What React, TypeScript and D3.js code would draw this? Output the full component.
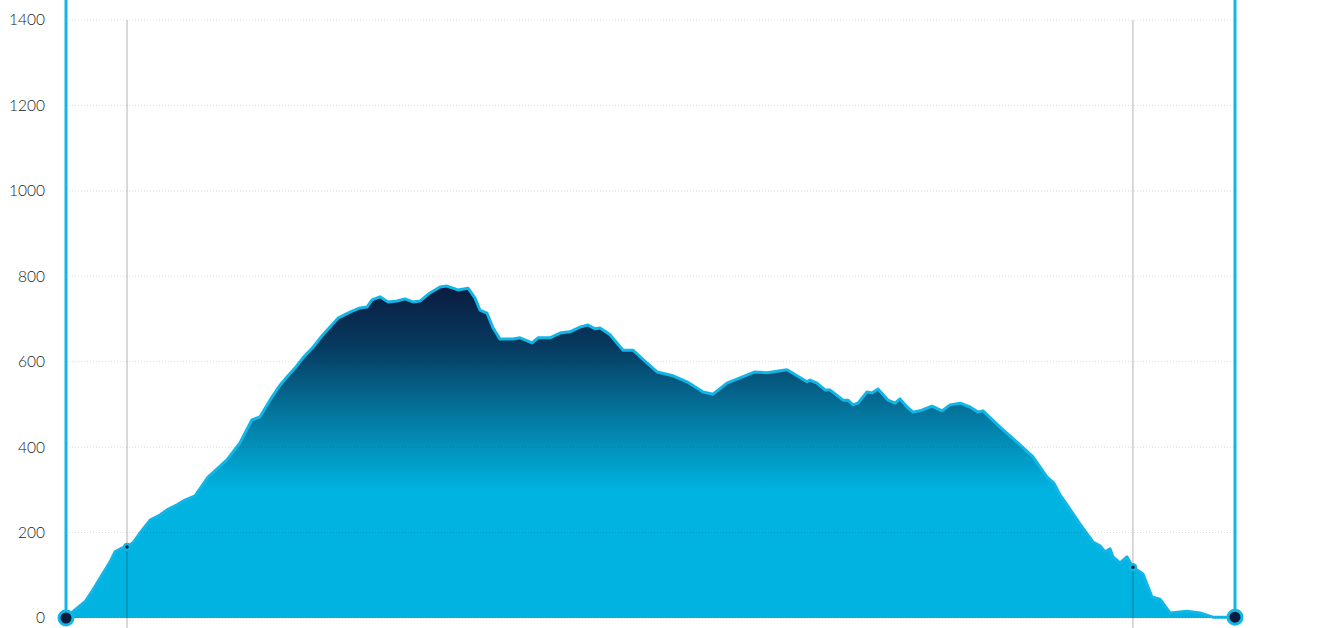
import React from "react";
import * as d3 from "d3";

const distanceKm = [
  0, 0.34, 0.77, 1.63, 2.31, 3.17, 3.76, 4.19, 4.79, 5.22, 5.73, 6.33, 7.19, 8.04, 8.64, 9.5, 10.18, 11.04,
  12.15, 13.0, 13.77, 14.88, 15.91, 16.6, 17.45, 18.31, 18.9, 19.59, 20.27, 21.13, 21.98, 23.27, 24.29, 25.15,
  25.75, 26.18, 26.86, 27.55, 28.31, 29.0, 29.68, 30.28, 31.14, 31.99, 32.59, 33.53, 34.39, 34.99, 35.41, 36.01,
  36.53, 37.13, 38.24, 38.84, 39.86, 40.38, 41.4, 42.26, 43.11, 43.97, 44.65, 45.25, 45.68, 46.54, 47.65, 48.5,
  49.7, 50.56, 51.93, 53.12, 54.23, 54.49, 55.35, 56.54, 57.66, 58.94, 59.97, 61.68, 63.39, 63.64, 64.24, 64.93,
  65.35, 66.47, 66.89, 67.32, 67.75, 68.52, 68.95, 69.46, 70.32, 70.92, 71.34, 71.94, 72.46, 73.05, 74.08, 74.94,
  75.62, 76.48, 77.33, 78.02, 78.44, 79.9, 81.35, 82.72, 83.92, 84.5, 85.03, 85.63, 86.74, 87.85, 88.45, 88.88, 89.31,
  89.56, 90.16, 90.76, 91.27, 92.13, 92.9, 93.58, 94.44, 95.89, 97.01, 98.12, 99.83, 100,
];

const elevationM = [
  0, 9, 19, 38, 66, 105, 131, 155, 164, 166, 176, 199, 229, 241, 253, 265, 276, 286,
  330, 351, 370, 410, 464, 471, 510, 545, 564, 585, 609, 634, 663, 702, 716, 726,
  728, 745, 752, 740, 742, 747, 740, 742, 761, 775, 777, 768, 772, 749, 721, 714,
  679, 653, 653, 656, 644, 656, 656, 667, 670, 681, 686, 677, 679, 663, 627, 627,
  597, 576, 567, 553, 534, 529, 524, 550, 562, 576, 574, 581, 553, 557, 550, 534,
  534, 510, 510, 499, 503, 529, 527, 536, 510, 503, 513, 494, 482, 485, 496, 485,
  499, 503, 494, 482, 485, 447, 412, 377, 330, 316, 288, 265, 220, 178, 169, 155, 162,
  143, 129, 143, 119, 103, 49, 44, 12, 16, 12, 2, 2, 2,
];

const yTicks = [0, 200, 400, 600, 800, 1000, 1200, 1400];
const markerKm = [5.22, 91.27];

export default function App() {
  const width = 1336;
  const height = 628;
  const left = 66;
  const right = 1235;
  const top = 20;
  const bottom = 618;

  const x = d3.scaleLinear().domain([0, 100]).range([left, right]);
  const y = d3.scaleLinear().domain([0, 1400]).range([bottom, top]);

  const pts = distanceKm.map((d, i) => ({ d, e: elevationM[i] }));
  const area = d3
    .area<{ d: number; e: number }>()
    .x((p) => x(p.d))
    .y0(y(0))
    .y1((p) => y(p.e));
  const line = d3
    .line<{ d: number; e: number }>()
    .x((p) => x(p.d))
    .y((p) => y(p.e));

  const interp = (km: number) => {
    const i = d3.bisectLeft(distanceKm, km);
    if (i <= 0) return elevationM[0];
    if (i >= distanceKm.length) return elevationM[elevationM.length - 1];
    const d0 = distanceKm[i - 1], d1 = distanceKm[i];
    const t = (km - d0) / (d1 - d0 || 1);
    return elevationM[i - 1] + t * (elevationM[i] - elevationM[i - 1]);
  };

  const cyan = "#12b6e6";
  const navy = "#0b1c3d";
  const ends = [0, 100];

  return (
    <div style={{ position: "fixed", left: 0, top: 0 }}>
      <svg width={width} height={height} style={{ display: "block", background: "#fff" }}>
        <defs>
          <linearGradient id="elevGrad" gradientUnits="userSpaceOnUse" x1={0} x2={0} y1={y(780)} y2={y(300)}>
            <stop offset="0%" stopColor="#0a1c3e" />
            <stop offset="30%" stopColor="#073a60" />
            <stop offset="65%" stopColor="#047aa2" />
            <stop offset="100%" stopColor="#00b3e1" />
          </linearGradient>
        </defs>

        {yTicks.map((t) => (
          <text
            key={"l" + t}
            x={45}
            y={y(t)}
            dy="0.35em"
            textAnchor="end"
            fontFamily="Lato, 'Open Sans', sans-serif"
            fontWeight={300}
            fontSize={15.5}
            fill="#222"
          >
            {t}
          </text>
        ))}

        <path d={area(pts) || ""} fill="url(#elevGrad)" />
        <path d={line(pts) || ""} fill="none" stroke={cyan} strokeWidth={3} strokeLinejoin="round" />

        {yTicks.map((t) => (
          <line
            key={"g" + t}
            x1={left}
            x2={right}
            y1={y(t)}
            y2={y(t)}
            stroke="rgba(0,0,0,0.14)"
            strokeWidth={1}
            strokeDasharray="1,2"
          />
        ))}

        {markerKm.map((k) => (
          <g key={"m" + k}>
            <line x1={x(k)} x2={x(k)} y1={top} y2={height} stroke="rgba(0,0,0,0.2)" strokeWidth={1.5} />
            <circle cx={x(k)} cy={y(interp(k))} r={3} fill={navy} stroke={cyan} strokeWidth={2.5} />
          </g>
        ))}

        {ends.map((k) => (
          <g key={"e" + k}>
            <line x1={x(k)} x2={x(k)} y1={0} y2={y(interp(k))} stroke={cyan} strokeWidth={3} />
            <circle cx={x(k)} cy={y(interp(k))} r={7} fill={navy} stroke={cyan} strokeWidth={3} />
          </g>
        ))}
      </svg>
    </div>
  );
}
